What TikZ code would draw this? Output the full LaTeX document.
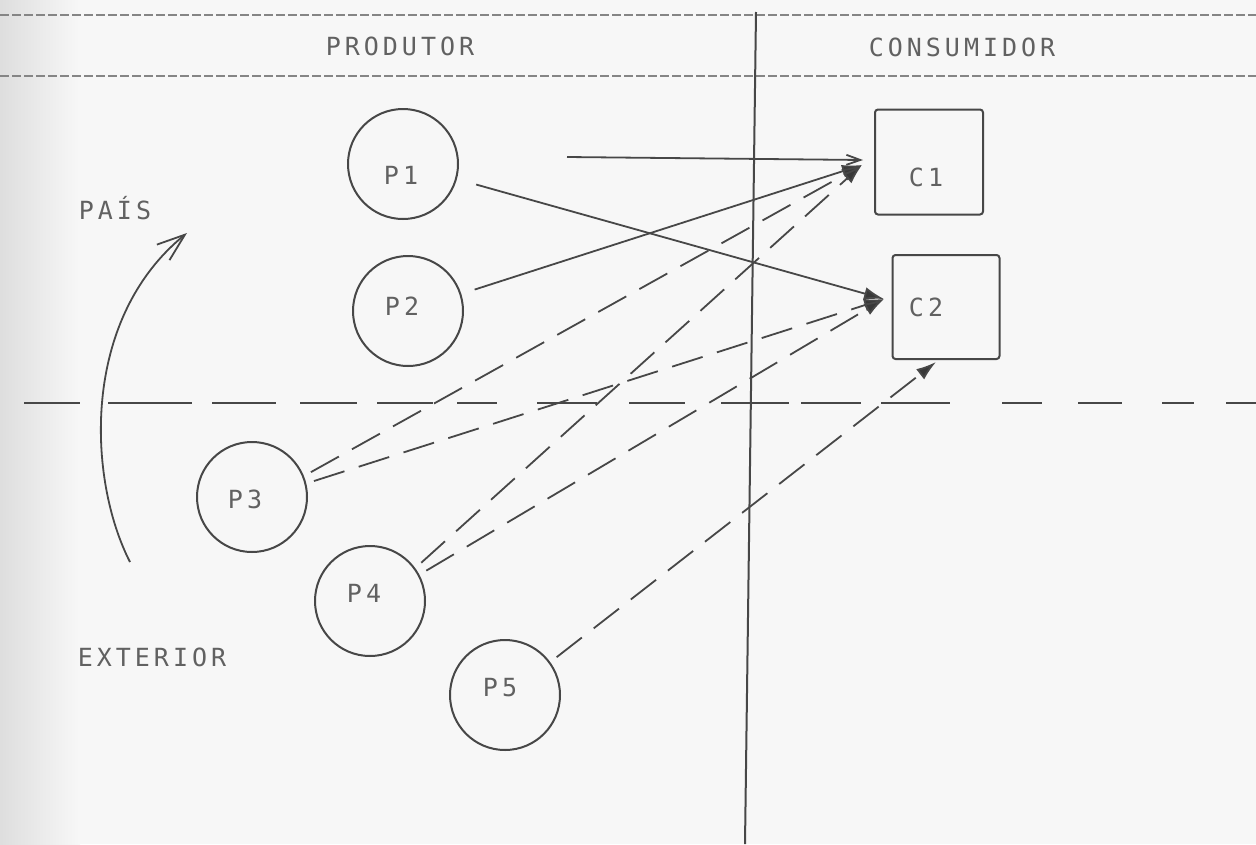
\documentclass[tikz,border=0pt]{standalone}
\usepackage{fontspec}
\newfontfamily\dotfont{DejaVu Sans Mono}[LetterSpace=16]
\usetikzlibrary{arrows.meta,calc}

\begin{document}
\begin{tikzpicture}[x=1pt,y=-1pt,
  ink/.style={draw=black!72, line width=2pt},
  prod/.style={ink, circle, minimum size=110pt, inner sep=0pt},
  cons/.style={ink, rectangle, rounded corners=3pt, inner sep=0pt},
  lbl/.style={text=black!62, font=\dotfont\fontsize{25}{30}\selectfont, inner sep=0pt},
  flow/.style={draw=black!72, line width=1.8pt,
    -{Latex[length=20pt,width=13pt,fill=black!78]}},
  dflow/.style={flow, dash pattern=on 32pt off 15pt, shorten <=8pt},
  barb/.style={draw=black!72, line width=1.8pt, -{Straight Barb[length=14pt,width=10pt]}},
  ruleline/.style={draw=black!48, line width=1.8pt, dash pattern=on 9pt off 3pt},
  border/.style={draw=black!72, line width=2pt,
    dash pattern=on 56pt off 28pt on 84pt off 20pt on 64pt off 24pt on 57pt off 20pt
                 on 56pt off 24pt on 40pt off 40pt on 60pt off 32pt on 56pt off 36pt
                 on 68pt off 12pt on 60pt off 20pt on 69pt off 52pt on 40pt off 36pt
                 on 44pt off 40pt on 32pt off 32pt on 30pt off 10pt}
]
% paper
\useasboundingbox (0,0) rectangle (1256,844);
\fill[black!3] (0,0) rectangle (1256,844);
\shade[left color=black!13, right color=black!3] (0,-2) rectangle (80,846);

% header rules and column titles
\draw[ruleline] (0,15) -- (1256,15);
\draw[ruleline] (0,76) -- (1256,76);
\node[lbl] (prodt) at (400,46) {PRODUTOR};
\node[lbl] (const) at (962,47) {CONSUMIDOR};

% column divider and country border
\coordinate (vtop) at (756,12);
\coordinate (vbot) at (745,844);
\draw[ink] (vtop) -- (vbot);
\coordinate (bleft) at (24,403);
\coordinate (bright) at (1256,403);
\draw[border] (bleft) -- (bright);

% region labels and the import arrow
\node[lbl] (pais) at (115,208) {PAÍS};
\node[lbl] (ext) at (152,657) {EXTERIOR};
\coordinate (curvefoot) at (130,562);
\coordinate (curvetip) at (187,233);
\draw[draw=black!72, line width=1.8pt, -{Straight Barb[length=28pt,width=20pt]}]
  (curvefoot) .. controls (88,480) and (80,320) .. (curvetip);

% producers
\node[prod] (P1) at (403,164) {};
\node[prod] (P2) at (408,311) {};
\node[prod] (P3) at (252,497) {};
\node[prod] (P4) at (370,601) {};
\node[prod] (P5) at (505,695) {};
\node[lbl] (P1t) at (401,175) {P1};
\node[lbl] (P2t) at (402,306) {P2};
\node[lbl] (P3t) at (245,499) {P3};
\node[lbl] (P4t) at (364,593) {P4};
\node[lbl] (P5t) at (500,688) {P5};

% consumers
\node[cons, minimum width=108pt, minimum height=105pt] (C1) at (929,162) {};
\node[cons, minimum width=107pt, minimum height=104pt] (C2) at (946,307) {};
\node[lbl] (C1t) at (926,177) {C1};
\node[lbl] (C2t) at (926,307) {C2};

% arrival points in front of the consumers
\coordinate (c1h) at (863,160);
\coordinate (c1in) at (862,165);
\coordinate (c2in) at (884,299);
\coordinate (c2bot) at (936,362);
\coordinate (hstart) at (567,157);

% domestic supply (solid)
\draw[barb] (hstart) -- (c1h);
\draw[flow, shorten <=20pt] (P1) -- (c2in);
\draw[flow, shorten <=14pt] (P2) -- (c1in);

% foreign supply (dashed)
\draw[dflow] (P3.22) -- (c1in);
\draw[dflow] (P3.14) -- (c2in);
\draw[dflow] (P4.36) -- (c1in);
\draw[dflow] (P4.28) -- (c2in);
\draw[dflow] (P5.36) -- (c2bot);
\end{tikzpicture}
\end{document}
